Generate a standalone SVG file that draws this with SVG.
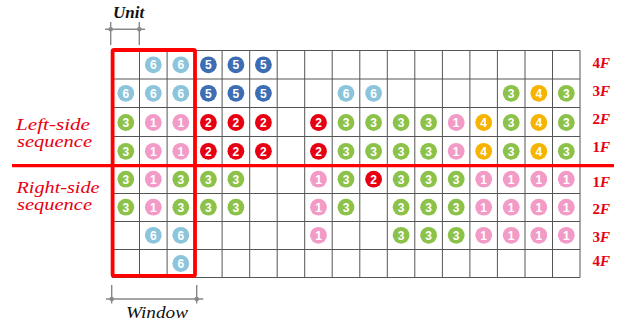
<svg xmlns="http://www.w3.org/2000/svg" width="621" height="322" viewBox="0 0 621 322">
<style>
.g{stroke:#555;stroke-width:1;fill:none}
.t{font-family:"Liberation Sans",Arial,sans-serif;font-weight:bold;font-size:12px;fill:#fff;text-anchor:middle}
.k1{fill:#F39BC7}.k2{fill:#E60012}.k3{fill:#8DC24A}.k4{fill:#F6B400}.k5{fill:#3D6DB3}.k6{fill:#8CC5DB}
.fl{font-family:"Liberation Serif","Times New Roman",serif;font-weight:bold;font-size:15px;fill:#E60012}
.sq{font-family:"Liberation Serif","Times New Roman",serif;font-style:italic;font-size:16.5px;fill:#E60012}
.dim{stroke:#888;stroke-width:1.4;fill:none}
.dot{fill:#888}
.lb{font-family:"Liberation Serif","Times New Roman",serif;font-style:italic;font-size:17px;fill:#111}
</style>
<defs>
<g id="s1"><circle r="8.4" class="k1"/><text class="t" y="4.3">1</text></g>
<g id="s2"><circle r="8.4" class="k2"/><text class="t" y="4.3">2</text></g>
<g id="s3"><circle r="8.4" class="k3"/><text class="t" y="4.3">3</text></g>
<g id="s4"><circle r="8.4" class="k4"/><text class="t" y="4.3">4</text></g>
<g id="s5"><circle r="8.4" class="k5"/><text class="t" y="4.3">5</text></g>
<g id="s6"><circle r="8.4" class="k6"/><text class="t" y="4.3">6</text></g>
</defs>
<rect width="621" height="322" fill="#fff"/>
<g id="grid" class="g">
<path d="M112 50.5V277.5M139.5 50.5V277.5M167.1 50.5V277.5M194.6 50.5V277.5M222.1 50.5V277.5M249.7 50.5V277.5M277.2 50.5V277.5M304.7 50.5V277.5M332.2 50.5V277.5M359.8 50.5V277.5M387.3 50.5V277.5M414.8 50.5V277.5M442.4 50.5V277.5M469.9 50.5V277.5M497.4 50.5V277.5M525 50.5V277.5M552.5 50.5V277.5M580 50.5V277.5"/>
<path d="M112 50.5H580M112 79H580M112 107.5H580M112 136.5H580M112 193.5H580M112 221.5H580M112 249.5H580M112 277.5H580"/>
</g>
<g id="tokens">
<g id="row-4F-left">
<use href="#s6" x="153.3" y="64.8"/><use href="#s6" x="180.8" y="64.8"/><use href="#s5" x="208.4" y="64.8"/><use href="#s5" x="235.9" y="64.8"/><use href="#s5" x="263.4" y="64.8"/>
</g>
<g id="row-3F-left">
<use href="#s6" x="125.8" y="93.3"/><use href="#s6" x="153.3" y="93.3"/><use href="#s6" x="180.8" y="93.3"/><use href="#s5" x="208.4" y="93.3"/><use href="#s5" x="235.9" y="93.3"/><use href="#s5" x="263.4" y="93.3"/>
<use href="#s6" x="346" y="93.3"/><use href="#s6" x="373.6" y="93.3"/>
<use href="#s3" x="511.2" y="93.3"/><use href="#s4" x="538.8" y="93.3"/><use href="#s3" x="566.3" y="93.3"/>
</g>
<g id="row-2F-left">
<use href="#s3" x="125.8" y="122.5"/><use href="#s1" x="153.3" y="122.5"/><use href="#s1" x="180.8" y="122.5"/><use href="#s2" x="208.4" y="122.5"/><use href="#s2" x="235.9" y="122.5"/><use href="#s2" x="263.4" y="122.5"/>
<use href="#s2" x="318.5" y="122.5"/><use href="#s3" x="346" y="122.5"/><use href="#s3" x="373.6" y="122.5"/><use href="#s3" x="401.1" y="122.5"/><use href="#s3" x="428.6" y="122.5"/><use href="#s1" x="456.2" y="122.5"/><use href="#s4" x="483.7" y="122.5"/><use href="#s3" x="511.2" y="122.5"/><use href="#s4" x="538.8" y="122.5"/><use href="#s3" x="566.3" y="122.5"/>
</g>
<g id="row-1F-left">
<use href="#s3" x="125.8" y="151.3"/><use href="#s1" x="153.3" y="151.3"/><use href="#s1" x="180.8" y="151.3"/><use href="#s2" x="208.4" y="151.3"/><use href="#s2" x="235.9" y="151.3"/><use href="#s2" x="263.4" y="151.3"/>
<use href="#s2" x="318.5" y="151.3"/><use href="#s3" x="346" y="151.3"/><use href="#s3" x="373.6" y="151.3"/><use href="#s3" x="401.1" y="151.3"/><use href="#s3" x="428.6" y="151.3"/><use href="#s1" x="456.2" y="151.3"/><use href="#s4" x="483.7" y="151.3"/><use href="#s3" x="511.2" y="151.3"/><use href="#s4" x="538.8" y="151.3"/><use href="#s3" x="566.3" y="151.3"/>
</g>
<g id="row-1F-right">
<use href="#s3" x="125.8" y="179.2"/><use href="#s1" x="153.3" y="179.2"/><use href="#s3" x="180.8" y="179.2"/><use href="#s3" x="208.4" y="179.2"/><use href="#s3" x="235.9" y="179.2"/>
<use href="#s1" x="318.5" y="179.2"/><use href="#s3" x="346" y="179.2"/><use href="#s2" x="373.6" y="179.2"/><use href="#s3" x="401.1" y="179.2"/><use href="#s3" x="428.6" y="179.2"/><use href="#s3" x="456.2" y="179.2"/><use href="#s1" x="483.7" y="179.2"/><use href="#s1" x="511.2" y="179.2"/><use href="#s1" x="538.8" y="179.2"/><use href="#s1" x="566.3" y="179.2"/>
</g>
<g id="row-2F-right">
<use href="#s3" x="125.8" y="207.2"/><use href="#s1" x="153.3" y="207.2"/><use href="#s3" x="180.8" y="207.2"/><use href="#s3" x="208.4" y="207.2"/><use href="#s3" x="235.9" y="207.2"/>
<use href="#s1" x="318.5" y="207.2"/><use href="#s3" x="346" y="207.2"/><use href="#s3" x="401.1" y="207.2"/><use href="#s3" x="428.6" y="207.2"/><use href="#s3" x="456.2" y="207.2"/><use href="#s1" x="483.7" y="207.2"/><use href="#s1" x="511.2" y="207.2"/><use href="#s1" x="538.8" y="207.2"/><use href="#s1" x="566.3" y="207.2"/>
</g>
<g id="row-3F-right">
<use href="#s6" x="153.3" y="235.3"/><use href="#s6" x="180.8" y="235.3"/>
<use href="#s1" x="318.5" y="235.3"/><use href="#s3" x="401.1" y="235.3"/><use href="#s3" x="428.6" y="235.3"/><use href="#s3" x="456.2" y="235.3"/><use href="#s1" x="483.7" y="235.3"/><use href="#s1" x="511.2" y="235.3"/><use href="#s1" x="538.8" y="235.3"/><use href="#s1" x="566.3" y="235.3"/>
</g>
<g id="row-4F-right">
<use href="#s6" x="180.8" y="263.5"/>
</g>
</g>
<g id="divider"><path d="M12 165.6H614" stroke="#F00" stroke-width="3.2"/></g>
<g id="window"><rect x="112.6" y="50" width="82.4" height="225.8" rx="1.5" fill="none" stroke="#F00" stroke-width="3.8"/></g>
<g id="floors">
<text class="fl" x="592.5" y="68.3">4<tspan font-style="italic">F</tspan></text>
<text class="fl" x="592.5" y="96">3<tspan font-style="italic">F</tspan></text>
<text class="fl" x="592.5" y="124">2<tspan font-style="italic">F</tspan></text>
<text class="fl" x="592.5" y="151.7">1<tspan font-style="italic">F</tspan></text>
<text class="fl" x="592.5" y="186.7">1<tspan font-style="italic">F</tspan></text>
<text class="fl" x="592.5" y="214.3">2<tspan font-style="italic">F</tspan></text>
<text class="fl" x="592.5" y="241.7">3<tspan font-style="italic">F</tspan></text>
<text class="fl" x="592.5" y="266">4<tspan font-style="italic">F</tspan></text>
</g>
<g id="left-label">
<text class="sq" x="16" y="129.8" textLength="74" lengthAdjust="spacingAndGlyphs">Left-side</text>
<text class="sq" x="17" y="147.2" textLength="75" lengthAdjust="spacingAndGlyphs">sequence</text>
</g>
<g id="right-label">
<text class="sq" x="16.5" y="192.6" textLength="83" lengthAdjust="spacingAndGlyphs">Right-side</text>
<text class="sq" x="17" y="210.2" textLength="75" lengthAdjust="spacingAndGlyphs">sequence</text>
</g>
<g id="unit-dim">
<path class="dim" d="M110.7 22V45M139.3 22V45M105 29.3H145"/>
<circle class="dot" cx="110.7" cy="29.3" r="2.3"/><circle class="dot" cx="139.3" cy="29.3" r="2.3"/>
<text class="lb" x="113" y="18.3" font-weight="bold">Unit</text>
</g>
<g id="window-dim">
<path class="dim" d="M111.7 285V303.5M196.7 285V303.5M106 299H203.3"/>
<circle class="dot" cx="111.7" cy="299" r="2.3"/><circle class="dot" cx="196.7" cy="299" r="2.3"/>
<text class="lb" x="126" y="318.3" textLength="62" lengthAdjust="spacingAndGlyphs">Window</text>
</g>
</svg>
